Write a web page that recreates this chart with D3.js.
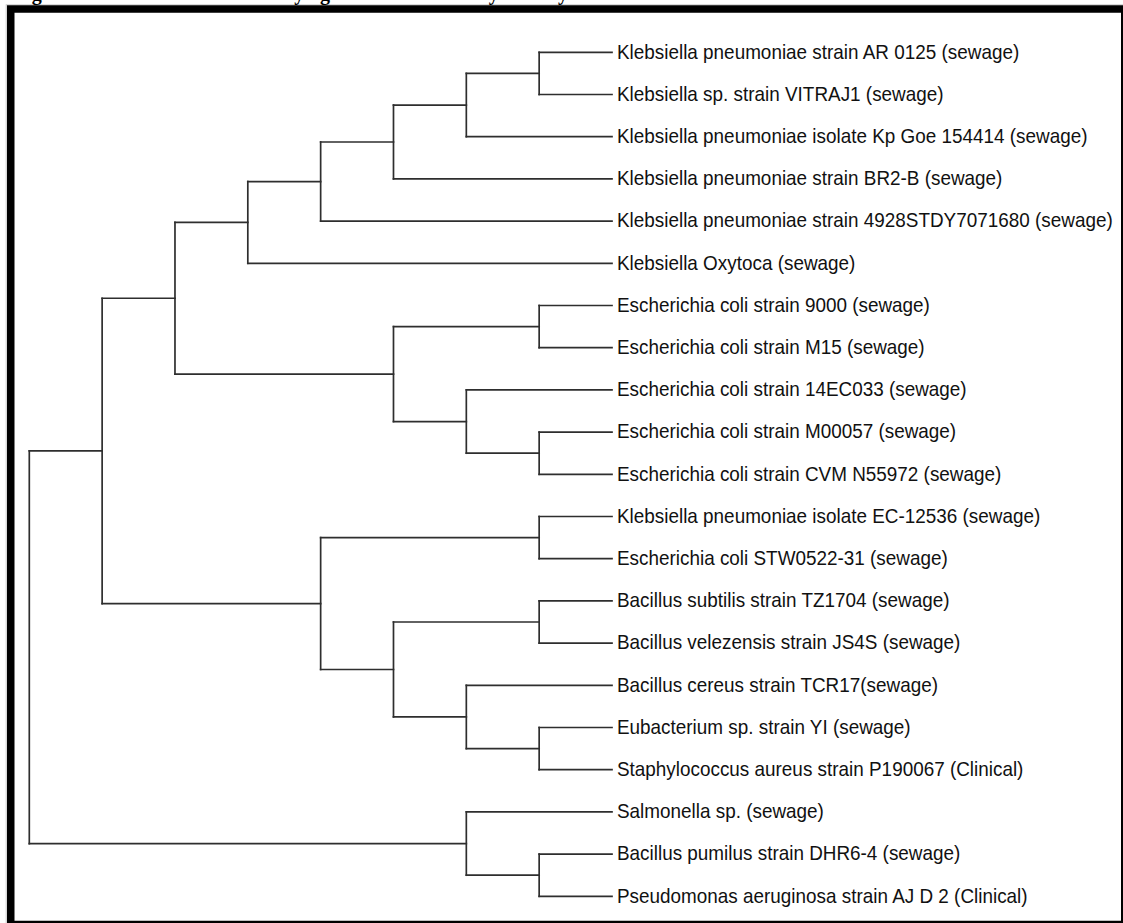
<!DOCTYPE html>
<html>
<head>
<meta charset="utf-8">
<script src="https://cdn.jsdelivr.net/npm/d3@7"></script>
<style>
  html, body { margin: 0; padding: 0; background: #fff; }
  svg { display: block; }
</style>
</head>
<body>
<svg id="chart" width="1123" height="923"></svg>
<script>
// ---- data ----
const titleWords = ["Figure 4: Molecular", "Phylogenetic", "analysis", "by"];
const titleWordX = [14, 271, 452, 547];   // text placement only

const taxa = [
  "Klebsiella pneumoniae strain AR 0125 (sewage)",
  "Klebsiella sp. strain VITRAJ1 (sewage)",
  "Klebsiella pneumoniae isolate Kp Goe 154414 (sewage)",
  "Klebsiella pneumoniae strain BR2-B (sewage)",
  "Klebsiella pneumoniae strain 4928STDY7071680 (sewage)",
  "Klebsiella Oxytoca (sewage)",
  "Escherichia coli strain 9000 (sewage)",
  "Escherichia coli strain M15 (sewage)",
  "Escherichia coli strain 14EC033 (sewage)",
  "Escherichia coli strain M00057 (sewage)",
  "Escherichia coli strain CVM N55972 (sewage)",
  "Klebsiella pneumoniae isolate EC-12536 (sewage)",
  "Escherichia coli STW0522-31 (sewage)",
  "Bacillus subtilis strain TZ1704 (sewage)",
  "Bacillus velezensis strain JS4S (sewage)",
  "Bacillus cereus strain TCR17(sewage)",
  "Eubacterium sp. strain YI (sewage)",
  "Staphylococcus aureus strain P190067 (Clinical)",
  "Salmonella sp. (sewage)",
  "Bacillus pumilus strain DHR6-4 (sewage)",
  "Pseudomonas aeruginosa strain AJ D 2 (Clinical)"
];

// merges: ids 0..20 are taxa, 21.. are new clusters in order of merging
const mergeLeft   = [0, 21, 22, 23, 24, 6, 9, 8, 26, 25, 11, 13, 16, 15, 32, 31, 30, 19, 18, 37];
const mergeRight  = [1, 2, 3, 4, 5, 7, 10, 27, 28, 29, 12, 14, 17, 33, 34, 35, 36, 20, 38, 39];
const mergeHeight = [1, 2, 3, 4, 5, 1, 1, 2, 3, 6, 1, 1, 1, 2, 3, 4, 7, 1, 2, 8];

// ---- build tree ----
const nodes = taxa.map((name, i) => ({ name, height: 0, id: i }));
mergeLeft.forEach((l, i) => {
  nodes.push({ id: taxa.length + i, height: mergeHeight[i], children: [nodes[l], nodes[mergeRight[i]]] });
});
const root = d3.hierarchy(nodes[nodes.length - 1]);

const svg = d3.select("#chart");
const W = 1123, H = 923;

// frame
svg.append("rect").attr("x", 0).attr("y", 0).attr("width", W).attr("height", H).attr("fill", "#fff");
svg.append("rect")
  .attr("x", 6.2).attr("y", 4.8).attr("width", 1124).attr("height", 925)
  .attr("fill", "none").attr("stroke", "#c8c8c8").attr("stroke-width", 1);
svg.append("rect")
  .attr("x", 10.75).attr("y", 9).attr("width", 1114).attr("height", 915.5)
  .attr("fill", "none").attr("stroke", "#000").attr("stroke-width", 7.5);

// title (cut off at the top, as in the source image)
const title = svg.append("text")
  .attr("y", -0.5)
  .attr("font-family", "'Liberation Serif', 'Times New Roman', serif")
  .attr("font-weight", "bold").attr("font-size", 20)
  .attr("fill", "#000");
title.selectAll("tspan").data(titleWords).join("tspan")
  .attr("x", (d, i) => titleWordX[i])
  .text(d => d);

// scales
const maxH = d3.max(mergeHeight);
const x = d3.scaleLinear().domain([maxH, 0]).range([29.3, 612]);
const y = d3.scalePoint().domain(root.leaves().map(d => d.data.name)).range([52.3, 896.3]);

root.eachAfter(d => {
  if (!d.children) d.yy = y(d.data.name);
  else d.yy = (d.children[0].yy + d.children[d.children.length - 1].yy) / 2;
  d.xx = x(d.data.height);
});

const g = svg.append("g");
const strokeCol = "#2e2e2e", sw = 1.7;

// horizontal branches
g.selectAll("line.h").data(root.descendants().filter(d => d.parent))
  .join("line").attr("class", "h")
  .attr("x1", d => d.parent.xx).attr("x2", d => d.xx)
  .attr("y1", d => d.yy).attr("y2", d => d.yy)
  .attr("stroke", strokeCol).attr("stroke-width", sw).attr("stroke-linecap", "square");

// vertical connectors
g.selectAll("line.v").data(root.descendants().filter(d => d.children))
  .join("line").attr("class", "v")
  .attr("x1", d => d.xx).attr("x2", d => d.xx)
  .attr("y1", d => d.children[0].yy).attr("y2", d => d.children[d.children.length - 1].yy)
  .attr("stroke", strokeCol).attr("stroke-width", sw).attr("stroke-linecap", "square");

// leaf labels (slightly condensed, as in the source)
g.selectAll("text.leaf").data(root.leaves())
  .join("text").attr("class", "leaf")
  .attr("transform", d => `translate(${d.xx + 5},${d.yy + 6.2}) scale(0.9,1)`)
  .attr("font-family", "'Liberation Sans', Arial, sans-serif")
  .attr("font-size", 21)
  .attr("fill", "#111")
  .text(d => d.data.name);
</script>
</body>
</html>
